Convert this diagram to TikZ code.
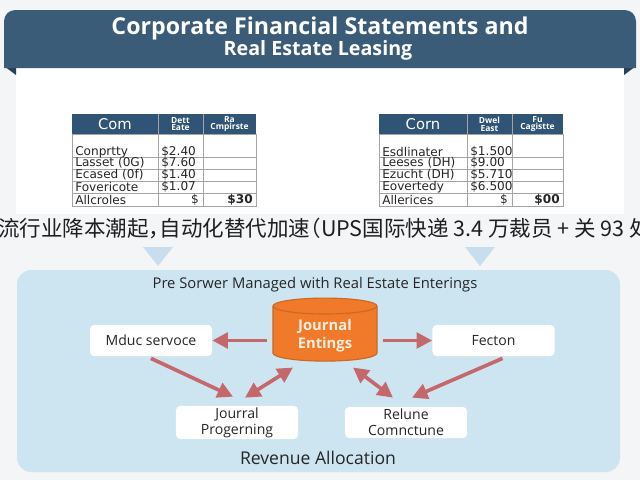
\documentclass[tikz,border=0pt]{standalone}
\usepackage{fontspec}
\setmainfont{Open Sans}
\newfontfamily\cjk[RawFeature=+halt]{Noto Sans CJK SC}
\newfontfamily\tabfont{DejaVu Sans}
\usetikzlibrary{positioning,shapes.geometric,arrows.meta,calc}
\definecolor{banner-blue}{RGB}{58,92,120}
\definecolor{fold-blue}{RGB}{38,64,88}
\definecolor{head-blue}{RGB}{47,84,118}
\definecolor{panel-blue}{RGB}{205,228,241}
\definecolor{chev-blue}{RGB}{200,222,238}
\definecolor{arrow-red}{RGB}{196,104,108}
\definecolor{drum-orange}{RGB}{240,122,42}
\definecolor{page-gray}{RGB}{243,245,246}
\definecolor{grid-gray}{RGB}{125,125,125}

\tikzset{
  box/.style={fill=white, rounded corners=3pt, minimum width=3.05cm, minimum height=0.78cm,
    align=center, inner sep=1pt, font=\fontsize{10}{11.5}\selectfont, text=black!85},
  arr/.style={arrow-red, line width=2.6pt, -{Triangle[length=11pt,width=11pt]}},
  dblarr/.style={arr, {Triangle[length=11pt,width=11pt]}-{Triangle[length=11pt,width=11pt]}},
  cell/.style={font=\tabfont\fontsize{8.6}{9}\selectfont, inner sep=0pt, text=black!85},
  headtext/.style={font=\fontsize{6}{5.5}\selectfont\bfseries, white, align=center, inner sep=0pt},
}

\begin{document}
\begin{tikzpicture}[x=0.025cm, y=-0.025cm]
  \useasboundingbox (0,0) rectangle (640,480);
  \clip (0,0) rectangle (640,480);
  \fill[page-gray] (0,0) rectangle (640,480);

  % banner with folded ends
  \fill[white] (16,60) rectangle (624,214);
  \fill[fold-blue] (4,66) -- (16,66) -- (16,75) -- cycle;
  \fill[fold-blue] (636,66) -- (624,66) -- (624,75) -- cycle;
  \fill[banner-blue] (4,68) {[rounded corners=8pt] -- (4,10) -- (636,10)} -- (636,68) -- cycle;
  \node[font=\fontsize{16.5}{18}\selectfont\bfseries, white] (title) at (320,28) {Corporate Financial Statements and};
  \node[font=\fontsize{14}{16}\selectfont\bfseries, white] (subtitle) at (318,50) {Real Estate Leasing};

  % left statement
  \begin{scope}[shift={(72,114)}]
    \fill[head-blue] (0,0) rectangle (184,20);
    \draw[grid-gray!70] (0,20) rectangle (184,92);
    \foreach \yy in {43,55,67,79} \draw[grid-gray!70] (0,\yy) -- (184,\yy);
    \draw[grid-gray!70] (86,0) -- (86,92);
    \draw[grid-gray!70] (131,0) -- (131,92);
    \node[font=\tabfont\fontsize{10.5}{11}\selectfont, white] at (43,10) {Com};
    \node[headtext] at (108.5,10) {Dett\\Eate};
    \node[headtext] at (157.5,10) {Ra\\Cmpirste};
    \node[cell, anchor=west] at (3,38) {Conprtty};    \node[cell, anchor=west] at (89,38) {\$2.40};
    \node[cell, anchor=west] at (3,49) {Lasset (0G)}; \node[cell, anchor=west] at (89,49) {\$7.60};
    \node[cell, anchor=west] at (3,61) {Ecased (0f)}; \node[cell, anchor=west] at (89,61) {\$1.40};
    \node[cell, anchor=west] at (3,73) {Fovericote};  \node[cell, anchor=west] at (89,73) {\$1.07};
    \node[cell, anchor=west] at (3,86) {Allcroles};   \node[cell, anchor=east] at (127,86) {\$};
    \node[cell, anchor=east, font=\tabfont\fontsize{8.6}{9}\selectfont\bfseries] at (181,86) {\$30};
  \end{scope}

  % right statement
  \begin{scope}[shift={(379,114)}]
    \fill[head-blue] (0,0) rectangle (184,20);
    \draw[grid-gray!70] (0,20) rectangle (184,92);
    \foreach \yy in {43,55,67,79} \draw[grid-gray!70] (0,\yy) -- (184,\yy);
    \draw[grid-gray!70] (88,0) -- (88,92);
    \draw[grid-gray!70] (133,0) -- (133,92);
    \node[font=\tabfont\fontsize{10.5}{11}\selectfont, white] at (44,10) {Corn};
    \node[headtext] at (110.5,10) {Dwel\\East};
    \node[headtext] at (158.5,10) {Fu\\Cagistte};
    \node[cell, anchor=west] at (3,38) {Esdlinater};  \node[cell, anchor=west] at (91,38) {\$1.500};
    \node[cell, anchor=west] at (3,49) {Leeses (DH)}; \node[cell, anchor=west] at (91,49) {\$9.00};
    \node[cell, anchor=west] at (3,61) {Ezucht (DH)}; \node[cell, anchor=west] at (91,61) {\$5.710};
    \node[cell, anchor=west] at (3,73) {Eovertedy};   \node[cell, anchor=west] at (91,73) {\$6.500};
    \node[cell, anchor=west] at (3,86) {Allerices};   \node[cell, anchor=east] at (129,86) {\$};
    \node[cell, anchor=east, font=\tabfont\fontsize{8.6}{9}\selectfont\bfseries] at (181,86) {\$00};
  \end{scope}

  % down chevrons
  \fill[chev-blue] (143,247) -- (173,247) -- (158,266) -- cycle;
  \fill[chev-blue] (465,247) -- (495,247) -- (480,266) -- cycle;

  % news line
  \node[anchor=west, inner sep=0pt, font=\cjk\fontsize{15.3}{16}\selectfont, text=black!88] (news) at (-2,228)
    {流行业降本潮起，自动化替代加速（UPS国际快递 3.4 万裁员 + 关 93 处};

  % flow panel
  \fill[panel-blue, rounded corners=10pt] (17,270) rectangle (620,472);
  \node[font=\fontsize{10.5}{12}\selectfont, text=black!85] (flowtitle) at (315,285) {Pre Sorwer Managed with Real Estate Enterings};
  \node[cylinder, shape border rotate=90, aspect=0.25, minimum width=2.6cm, minimum height=1.575cm,
        fill=drum-orange, draw=drum-orange!85!black, thick, align=center, text=orange!12,
        font=\fontsize{10.5}{12.5}\selectfont\bfseries] (cyl) at (325,335.5) {Journal\\Entings};
  \node[box] (mduc) at (151,340.5) {Mduc servoce};
  \node[box] (fect) at (493.5,340.5) {Fecton};
  \node[box] (jour) at (237,422.5) {Jourral\\Progerning};
  \node[box] (relu) at (406,422.5) {Relune\\Comnctune};
  \node[font=\fontsize{12.5}{14}\selectfont, text=black!85] (alloc) at (318,458) {Revenue Allocation};

  \draw[arr, shorten <=4pt] (cyl.west |- mduc.east) -- (mduc.east);
  \draw[arr, shorten <=4pt] (cyl.east |- fect.west) -- (fect.west);
  \draw[arr] ($(mduc.south)+(0,2)$) -- ($(jour.north)+(-4,-9)$);
  \draw[arr] ($(fect.south)+(9,2)$) -- ($(relu.north)+(6,-9)$);
  \draw[dblarr] ($(jour.north)+(8,-8)$) -- ($(cyl.center)+(-32,32)$);
  \draw[dblarr] ($(relu.north)+(-13,-9)$) -- ($(cyl.center)+(28,32)$);
\end{tikzpicture}
\end{document}
